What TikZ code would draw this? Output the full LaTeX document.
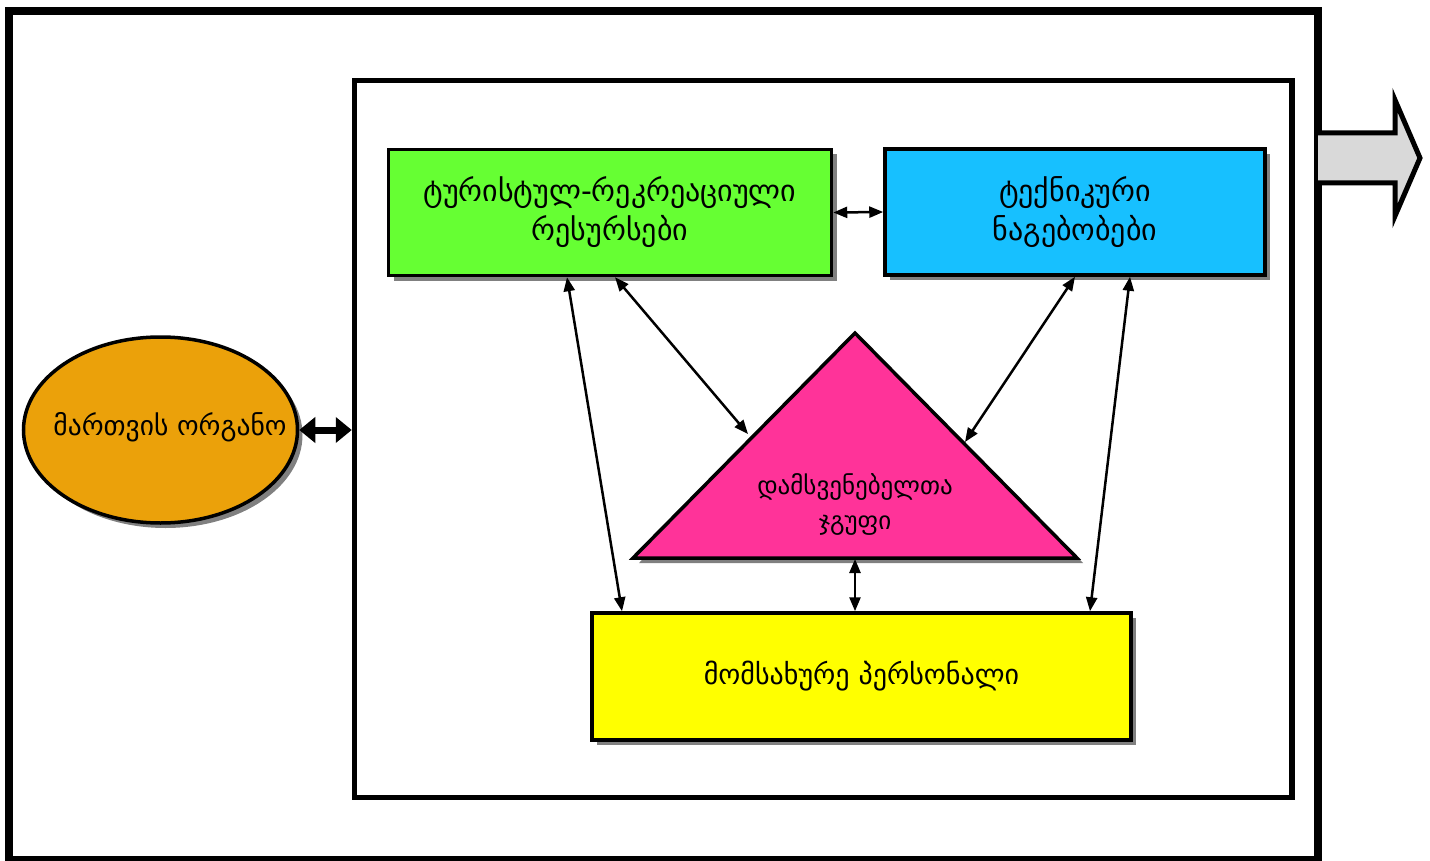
\documentclass[tikz,border=0pt]{standalone}
\usepackage{fontspec}
\setmainfont{DejaVu Sans}
\usetikzlibrary{arrows.meta,shapes.geometric,shadows}
\definecolor{cgreen}{HTML}{66FF33}
\definecolor{cblue}{HTML}{17C0FF}
\definecolor{cyellow}{HTML}{FFFF00}
\definecolor{corange}{HTML}{EBA10A}
\definecolor{cpink}{HTML}{FF3399}
\definecolor{cgray}{HTML}{D9D9D9}
\definecolor{cshadow}{HTML}{808080}
\tikzset{
  shad/.style={drop shadow={shadow xshift=5pt,shadow yshift=-5pt,fill=cshadow,opacity=1}},
  box/.style={draw=black,line width=3.5pt,rectangle,shad,align=center,font=\fontsize{30}{39}\selectfont,inner sep=0pt},
  conn/.style={line width=2.5pt,{Stealth[length=14pt,width=11pt,inset=0pt]}-{Stealth[length=14pt,width=11pt,inset=0pt]},shorten <=0pt,shorten >=0pt},
}
\begin{document}
\begin{tikzpicture}[x=1pt,y=-1pt]
\useasboundingbox (0,0) rectangle (1430,861);
% outer and inner frames
\node[draw,line width=8pt,minimum width=1309pt,minimum height=848pt,inner sep=0pt] (outer) at (663.5,435.5) {};
\node[draw,line width=5.5pt,minimum width=937.5pt,minimum height=717pt,inner sep=0pt] (inner) at (823.25,439) {};
% right block arrow
\draw[line width=5pt,fill=cgray,line join=miter] (1318,133) -- (1395,133) -- (1395,100) -- (1420,158) -- (1395,216) -- (1395,183) -- (1318,183);
% boxes
\node[box,fill=cgreen,minimum width=443pt,minimum height=126pt] (green) at (610,212.5) {ტურისტულ-რეკრეაციული\\რესურსები};
\node[box,fill=cblue,minimum width=380pt,minimum height=126pt] (blue) at (1075,212) {ტექნიკური\\ნაგებობები};
\node[box,fill=cyellow,minimum width=539pt,minimum height=127pt,font=\fontsize{28}{36}\selectfont] (yellow) at (861.5,676.5) {მომსახურე პერსონალი};
\node[ellipse,draw,line width=3.5pt,fill=corange,shad,minimum width=274pt,minimum height=186pt,inner sep=0pt] (ell) at (160.5,430) {};
\node[font=\fontsize{27.5}{36}\selectfont,inner sep=0pt] (elltext) at (170,427) {მართვის ორგანო};
% triangle
\fill[cshadow] (861,338) -- (1083,563) -- (639,563) -- cycle;
\draw[line width=3.5pt,fill=cpink,line join=miter] (855,333) -- (1077,558) -- (633,558) -- cycle;
\node[align=center,font=\fontsize{25}{35}\selectfont] (tri) at (855,504) {დამსვენებელთა\\ჯგუფი};
\coordinate (triL) at (748,434);
\coordinate (triR) at (965,442);
\coordinate (triB) at (855,559);
% connectors
\draw[conn] (green.east) -- (blue.west);
\draw[conn] ([xshift=-43pt]green.south) -- ([xshift=-239.5pt]yellow.north);
\draw[conn] ([xshift=5pt]green.south) -- (triL);
\draw[conn] ([xshift=0pt]blue.south) -- (triR);
\draw[conn] ([xshift=55pt]blue.south) -- ([xshift=228.5pt]yellow.north);
\draw[conn] (triB) -- (yellow.north -| triB);
% big double arrow
\draw[line width=7pt,{Triangle[length=16pt,width=25pt]}-{Triangle[length=16pt,width=25pt]}] (ell.east) -- (inner.west |- ell.east);
\end{tikzpicture}
\end{document}
